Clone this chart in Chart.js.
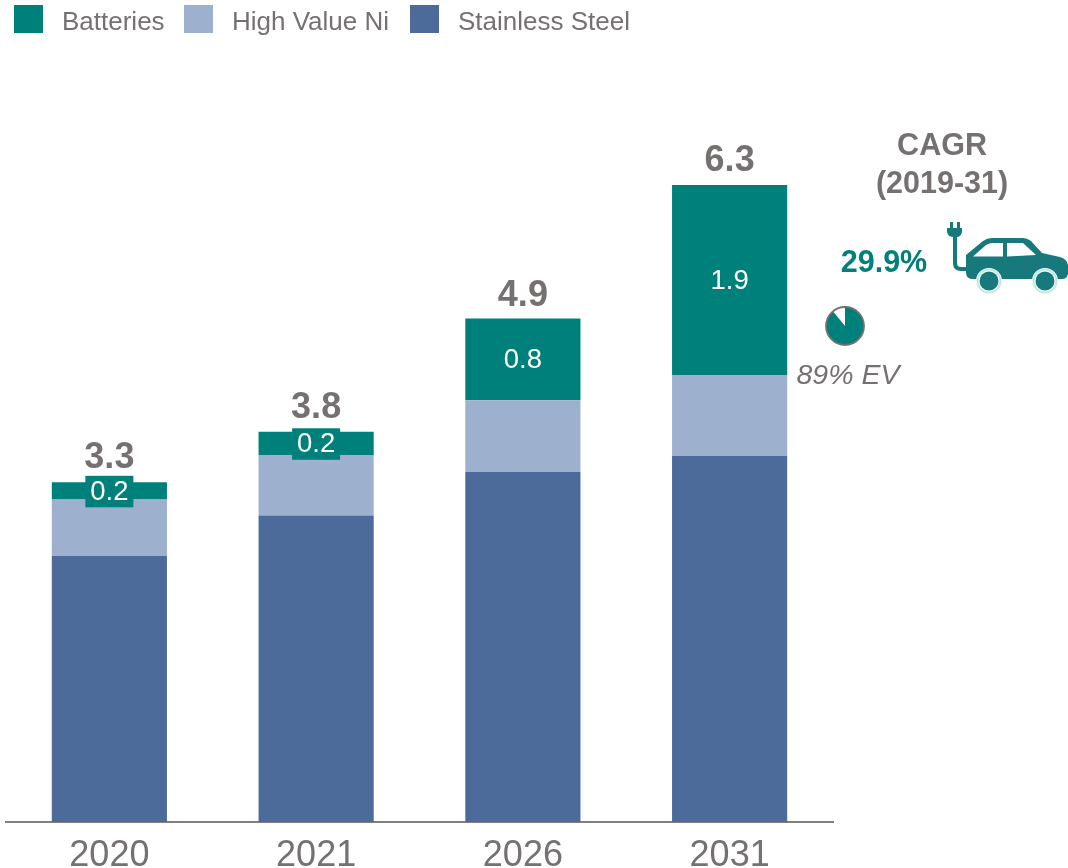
<!DOCTYPE html>
<html>
<head>
<meta charset="UTF-8">
<title>Nickel demand</title>
<script src="https://cdn.jsdelivr.net/npm/chart.js"></script>
<style>
  html, body { margin: 0; background: #fff; }
  canvas { display: block; }
</style>
</head>
<body>
<canvas id="nickelChart" width="1068" height="868"></canvas>
<script>
// --- Data ---
const categories = ['2020', '2021', '2026', '2031'];
const stainlessSteel = [2.63, 3.03, 3.46, 3.62];
const highValueNi = [0.56, 0.60, 0.71, 0.80];
const batteries = [0.17, 0.23, 0.81, 1.88];
const totalLabels = ['3.3', '3.8', '4.9', '6.3'];
const batteryLabels = ['0.2', '0.2', '0.8', '1.9'];
const legendOrder = ['Batteries', 'High Value Ni', 'Stainless Steel'];
const evShare = 89;

const GREY = '#767171';
const TEAL = '#00807A';
const CAR = '#17797B';
const FONT = '"Liberation Sans", Arial, sans-serif';

function putText(ctx, text, x, y, font, color, align) {
    ctx.font = font;
    ctx.fillStyle = color;
    ctx.textAlign = align || 'center';
    ctx.textBaseline = 'alphabetic';
    ctx.fillText(text, x, y);
}

// --- Legend row on top, in the reference's order ---
function drawLegend(chart) {
    const ctx = chart.ctx;
    const xs = [14, 184, 410];
    legendOrder.forEach((name, i) => {
        const ds = chart.data.datasets.find(d => d.label === name);
        ctx.fillStyle = ds.backgroundColor;
        ctx.fillRect(xs[i], 5, 29, 28);
        putText(ctx, name, xs[i] + 48, 30, '26px ' + FONT, GREY, 'left');
    });
}

// --- Labels on the bars ---
function drawBarLabels(chart) {
    const ctx = chart.ctx;
    const gaps = [14, 14, 12, 13.5];
    const batIndex = chart.data.datasets.findIndex(d => d.label === 'Batteries');
    chart.getDatasetMeta(batIndex).data.forEach((bar, i) => {
        const midY = (bar.y + bar.base) / 2;
        if (bar.base - bar.y < 32) {
            // thin segment, the label needs its own box
            ctx.fillStyle = TEAL;
            ctx.fillRect(bar.x - 24, midY - 15, 48, 31.5);
        }
        putText(ctx, batteryLabels[i], bar.x, midY + 9, '27.5px ' + FONT, '#fff');
        putText(ctx, totalLabels[i], bar.x, bar.y - gaps[i], 'bold 36px ' + FONT, GREY);
    });
}

// --- Small pie with the EV share ---
function drawEvPie(ctx, cx, cy, r) {
    const top = -Math.PI / 2;
    ctx.fillStyle = '#fff';
    ctx.beginPath();
    ctx.arc(cx, cy, r, 0, Math.PI * 2);
    ctx.fill();
    ctx.fillStyle = TEAL;
    ctx.beginPath();
    ctx.moveTo(cx, cy);
    ctx.arc(cx, cy, r, top, top + Math.PI * 2 * evShare / 100);
    ctx.closePath();
    ctx.fill();
    ctx.strokeStyle = GREY;
    ctx.lineWidth = 1.8;
    ctx.beginPath();
    ctx.arc(cx, cy, r, 0, Math.PI * 2);
    ctx.stroke();
}

// --- Car with the plug ---
function drawCar(ctx) {
    ctx.fillStyle = CAR;
    ctx.strokeStyle = CAR;

    // plug prongs and head
    ctx.fillRect(950, 222, 3, 7);
    ctx.fillRect(957, 222, 3, 7);
    ctx.beginPath();
    ctx.moveTo(947, 228);
    ctx.lineTo(962, 228);
    ctx.lineTo(962, 232);
    ctx.quadraticCurveTo(961, 237, 956.5, 237);
    ctx.lineTo(953.5, 237);
    ctx.quadraticCurveTo(948, 237, 947, 232);
    ctx.closePath();
    ctx.fill();

    // cord
    ctx.lineWidth = 4;
    ctx.beginPath();
    ctx.moveTo(955, 236);
    ctx.lineTo(955, 263);
    ctx.quadraticCurveTo(955, 269, 961, 269);
    ctx.lineTo(970, 269);
    ctx.stroke();

    // body
    ctx.beginPath();
    ctx.moveTo(966, 255);
    ctx.lineTo(983, 241);
    ctx.quadraticCurveTo(987, 238, 992, 238);
    ctx.lineTo(1023, 238);
    ctx.quadraticCurveTo(1027, 238, 1031, 241);
    ctx.lineTo(1042, 253);
    ctx.lineTo(1060, 257);
    ctx.quadraticCurveTo(1067, 259, 1068, 265);
    ctx.lineTo(1068, 274);
    ctx.quadraticCurveTo(1067, 279, 1062, 279);
    ctx.lineTo(972, 279);
    ctx.quadraticCurveTo(966, 279, 966, 272);
    ctx.closePath();
    ctx.fill();

    // windows
    ctx.fillStyle = '#fff';
    ctx.beginPath();
    ctx.moveTo(973, 256.5);
    ctx.lineTo(986, 245);
    ctx.quadraticCurveTo(989, 243, 993, 243);
    ctx.lineTo(1003, 243);
    ctx.lineTo(1003, 256.5);
    ctx.closePath();
    ctx.fill();
    ctx.beginPath();
    ctx.moveTo(1007, 243);
    ctx.lineTo(1023, 243);
    ctx.lineTo(1036, 255);
    ctx.lineTo(1007, 256.5);
    ctx.closePath();
    ctx.fill();

    // wheels, each with a pale ring
    [989, 1045].forEach(x => {
        ctx.fillStyle = '#fff';
        ctx.beginPath();
        ctx.arc(x, 281, 13, 0, Math.PI * 2);
        ctx.fill();
        ctx.strokeStyle = '#BFE8E3';
        ctx.lineWidth = 2;
        ctx.beginPath();
        ctx.arc(x, 281, 11.5, 0, Math.PI * 2);
        ctx.stroke();
        ctx.fillStyle = CAR;
        ctx.beginPath();
        ctx.arc(x, 281, 9.5, 0, Math.PI * 2);
        ctx.fill();
    });
}

// --- Everything that sits outside the bars ---
const annotations = {
    id: 'annotations',
    afterDraw(chart) {
        const ctx = chart.ctx;
        ctx.save();
        drawLegend(chart);
        drawBarLabels(chart);
        putText(ctx, 'CAGR', 942, 155, 'bold 30.5px ' + FONT, GREY);
        putText(ctx, '(2019-31)', 942, 193, 'bold 30.5px ' + FONT, GREY);
        putText(ctx, '29.9%', 884, 272, 'bold 30.5px ' + FONT, TEAL);
        putText(ctx, '89% EV', 848, 384, 'italic 28.5px ' + FONT, GREY);
        drawEvPie(ctx, 845, 326, 19);
        drawCar(ctx);
        ctx.restore();
    }
};

new Chart(document.getElementById('nickelChart'), {
    type: 'bar',
    data: {
        labels: categories,
        datasets: [
            { label: 'Stainless Steel', data: stainlessSteel, backgroundColor: '#4C6B9A' },
            { label: 'High Value Ni', data: highValueNi, backgroundColor: '#9DB0CE' },
            { label: 'Batteries', data: batteries, backgroundColor: TEAL }
        ]
    },
    options: {
        responsive: false,
        animation: false,
        layout: { padding: { left: 6, right: 235, top: 13 } },
        datasets: { bar: { barPercentage: 0.557, categoryPercentage: 1 } },
        plugins: { legend: { display: false }, tooltip: { enabled: false } },
        scales: {
            x: {
                stacked: true,
                afterFit(scale) { scale.height = 46; },
                grid: { display: false },
                border: { color: '#7F7F7F', width: 2 },
                ticks: { color: GREY, font: { family: FONT, size: 36 }, padding: 4, maxRotation: 0 }
            },
            y: { stacked: true, display: false, min: 0, max: 8 }
        }
    },
    plugins: [annotations]
});
</script>
</body>
</html>
